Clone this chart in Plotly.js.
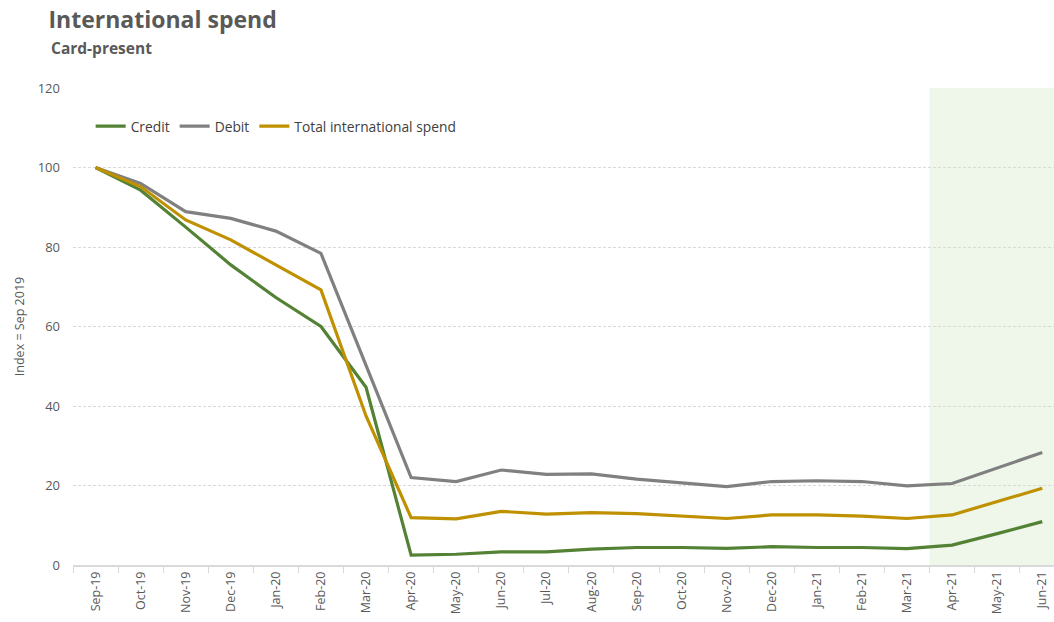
<!DOCTYPE html>
<html>
<head>
<meta charset="utf-8">
<script src="https://cdn.plot.ly/plotly-3.0.1.min.js"></script>
<style>html,body{margin:0;padding:0;background:#fff;}#chart{width:1054px;height:622px;}</style>
</head>
<body>
<div id="chart"></div>
<script>
const months = ["Sep-19","Oct-19","Nov-19","Dec-19","Jan-20","Feb-20","Mar-20","Apr-20","May-20","Jun-20","Jul-20","Aug-20","Sep-20","Oct-20","Nov-20","Dec-20","Jan-21","Feb-21","Mar-21","Apr-21","May-21","Jun-21"];
const credit = [100,94.3,85.0,75.5,67.3,60.0,44.7,2.5,2.7,3.3,3.3,4.0,4.4,4.4,4.2,4.6,4.4,4.4,4.1,5.0,7.9,10.9];
const debit  = [100,96.0,88.9,87.2,84.0,78.4,50.2,22.0,21.0,23.9,22.8,22.9,21.6,20.7,19.7,21.0,21.2,21.0,19.9,20.5,24.3,28.3];
const total  = [100,95.2,86.8,81.8,75.5,69.2,37.5,11.9,11.6,13.5,12.8,13.2,12.9,12.3,11.7,12.6,12.6,12.3,11.7,12.6,15.9,19.3];
const forecastStart = "Apr-21";

const font = "Open Sans, Liberation Sans, sans-serif";
const txt = "#595959";

const mk = (name, y, color) => ({
  type: "scatter", mode: "lines", name: name, x: months, y: y,
  line: {color: color, width: 3.2}, hoverinfo: "x+y"
});

const data = [
  mk("Credit", credit, "#548235"),
  mk("Debit", debit, "#808080"),
  mk("Total international spend", total, "#bf9000")
];

const startIdx = months.indexOf(forecastStart);

const layout = {
  width: 1054, height: 622,
  margin: {l: 73, r: 0, t: 88, b: 57, pad: 0},
  paper_bgcolor: "#fff", plot_bgcolor: "rgba(0,0,0,0)",
  font: {family: font, color: txt, size: 12},
  showlegend: true,
  legend: {orientation: "h", x: 0.018, xanchor: "left", y: 0.92, yanchor: "middle",
    font: {family: font, size: 13.8, color: "#404040"}, bgcolor: "rgba(0,0,0,0)", itemwidth: 30, tracegroupgap: 0},
  title: {text: "<b>International spend</b>", xref: "container", x: 0.046, xanchor: "left",
    yref: "container", y: 1 - 20/622, yanchor: "middle", font: {family: font, size: 23, color: txt}},
  annotations: [{text: "<b>Card-present</b>", xref: "paper", yref: "paper", showarrow: false,
    x: (49-73)/981, xanchor: "left", y: (565-48)/477, yanchor: "middle", font: {family: font, size: 15.5, color: txt}}],
  xaxis: {type: "category", range: [-0.5, 21.26], tickson: "boundaries", ticks: "outside", ticklen: 6,
    tickcolor: "#d9d9d9", showline: true, linecolor: "#d9d9d9", linewidth: 1.5, showgrid: false,
    tickangle: -90, tickfont: {family: font, size: 12.5, color: txt}, fixedrange: true, zeroline: false},
  yaxis: {range: [0, 120], dtick: 20, showgrid: true, gridcolor: "#d9d9d9", griddash: "3px,2px", gridwidth: 1,
    zeroline: false, showline: false, ticks: "", tickfont: {family: font, size: 13, color: txt},
    ticklabelstandoff: 12,
    title: {text: "Index = Sep 2019", font: {family: font, size: 12.5, color: txt}, standoff: 10}},
  shapes: [{type: "rect", layer: "below", xref: "x", yref: "y", x0: startIdx - 0.5, x1: months.length - 0.5,
    y0: 0, y1: 120, fillcolor: "#eff6ea", line: {width: 0}}]
};

Plotly.newPlot("chart", data, layout, {displayModeBar: false, staticPlot: true});
</script>
</body>
</html>
